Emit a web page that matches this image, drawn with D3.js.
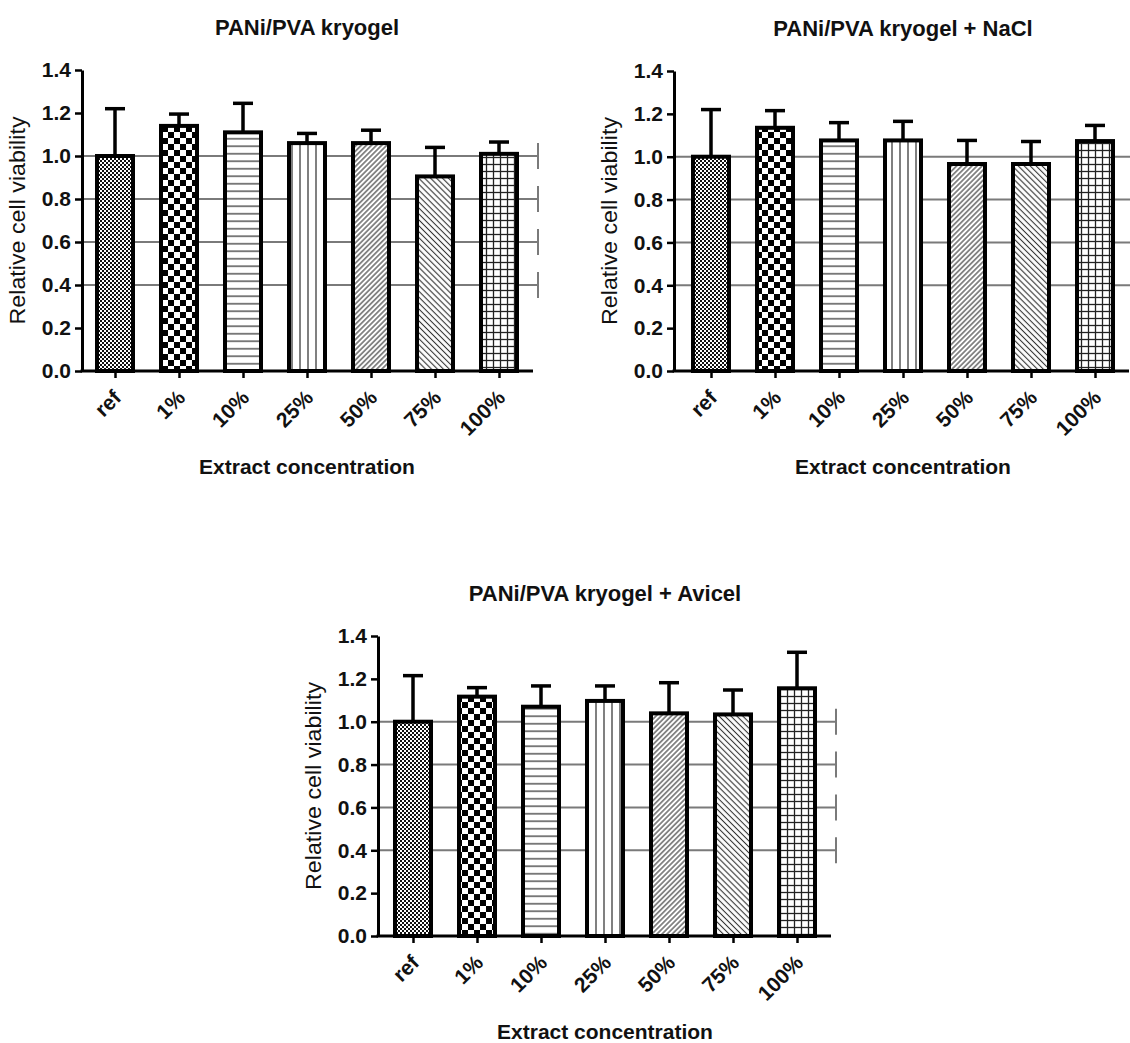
<!DOCTYPE html>
<html>
<head>
<meta charset="utf-8">
<script src="https://d3js.org/d3.v7.min.js"></script>
<style>
body { margin: 0; background: #fff; }
svg { display: block; font-family: 'Liberation Sans', Arial, sans-serif; }
</style>
</head>
<body>
<div id="chart"></div>
<script>

// categories and values
var cats = ["ref", "1%", "10%", "25%", "50%", "75%", "100%"];
var yTicks = [0, 0.2, 0.4, 0.6, 0.8, 1.0, 1.2, 1.4];
var gridVals = [0.4, 0.6, 0.8, 1.0];

var kryoMean = [1.00, 1.14, 1.11, 1.06, 1.06, 0.905, 1.01];
var kryoErr  = [0.22, 0.055, 0.135, 0.045, 0.06, 0.135, 0.055];

var naclMean = [1.00, 1.135, 1.076, 1.076, 0.966, 0.966, 1.073];
var naclErr  = [0.22, 0.08, 0.083, 0.089, 0.11, 0.105, 0.073];

var avicelMean = [1.00, 1.117, 1.07, 1.097, 1.039, 1.034, 1.156];
var avicelErr  = [0.215, 0.042, 0.097, 0.07, 0.143, 0.114, 0.168];

var patterns = ["fine", "check", "hline", "vline", "diagUp", "diagDown", "grid"];

// layout of the three panels
var panels = [
  {title: "PANi/PVA kryogel",          mean: kryoMean,   err: kryoErr,   axisX: 82,  x0: 115, yTop: 70,  yBot: 371, gridEnd: 538},
  {title: "PANi/PVA kryogel + NaCl",   mean: naclMean,   err: naclErr,   axisX: 674, x0: 711, yTop: 71,  yBot: 371, gridEnd: 1134},
  {title: "PANi/PVA kryogel + Avicel", mean: avicelMean, err: avicelErr, axisX: 378, x0: 413, yTop: 636, yBot: 936, gridEnd: 836}
];

var svg = d3.select("#chart").append("svg")
  .attr("width", 1130).attr("height", 1043);
svg.append("rect").attr("width", 1130).attr("height", 1043).attr("fill", "#fff");

/////// fill patterns ///////
var defs = svg.append("defs");

function makePattern(id, w, h, transform) {
  var p = defs.append("pattern").attr("id", id)
    .attr("patternUnits", "userSpaceOnUse")
    .attr("width", w).attr("height", h);
  if (transform) p.attr("patternTransform", transform);
  p.append("rect").attr("width", w).attr("height", h).attr("fill", "#fff");
  return p;
}

var p = makePattern("fine", 4, 4);
p.append("rect").attr("x", 0).attr("y", 0).attr("width", 2).attr("height", 2).attr("fill", "#111");
p.append("rect").attr("x", 2).attr("y", 2).attr("width", 2).attr("height", 2).attr("fill", "#111");

p = makePattern("check", 12, 12);
p.append("rect").attr("x", 0).attr("y", 0).attr("width", 6).attr("height", 6).attr("fill", "#000");
p.append("rect").attr("x", 6).attr("y", 6).attr("width", 6).attr("height", 6).attr("fill", "#000");

p = makePattern("hline", 10, 7.5);
p.append("line").attr("x1", 0).attr("x2", 10).attr("y1", 3.75).attr("y2", 3.75)
  .attr("stroke", "#555").attr("stroke-width", 1.5);

p = makePattern("vline", 8, 10);
p.append("line").attr("y1", 0).attr("y2", 10).attr("x1", 4).attr("x2", 4)
  .attr("stroke", "#555").attr("stroke-width", 1.5);

p = makePattern("diagUp", 3.6, 10, "rotate(45)");
p.append("line").attr("y1", 0).attr("y2", 10).attr("x1", 1.8).attr("x2", 1.8)
  .attr("stroke", "#333").attr("stroke-width", 1.1);

p = makePattern("diagDown", 4.2, 10, "rotate(-45)");
p.append("line").attr("y1", 0).attr("y2", 10).attr("x1", 2.1).attr("x2", 2.1)
  .attr("stroke", "#333").attr("stroke-width", 1.1);

p = makePattern("grid", 7, 7);
p.append("line").attr("x1", 0).attr("x2", 7).attr("y1", 3.5).attr("y2", 3.5)
  .attr("stroke", "#222").attr("stroke-width", 1.3);
p.append("line").attr("y1", 0).attr("y2", 7).attr("x1", 3.5).attr("x2", 3.5)
  .attr("stroke", "#222").attr("stroke-width", 1.3);

/////// draw one panel ///////
function drawPanel(cfg) {
  var g = svg.append("g");
  var axisEnd = cfg.x0 + 418;

  var x = d3.scalePoint().domain(cats)
    .range([cfg.x0 - 32, cfg.x0 + 416]).padding(0.5);
  var y = d3.scaleLinear().domain([0, 1.4]).range([cfg.yBot, cfg.yTop]);

  // grid lines with end caps
  g.selectAll(".grid").data(gridVals).enter().append("line")
    .attr("x1", cfg.axisX).attr("x2", cfg.gridEnd)
    .attr("y1", function(d) { return y(d); }).attr("y2", function(d) { return y(d); })
    .attr("stroke", "#7a7a7a").attr("stroke-width", 2);
  g.selectAll(".cap").data(gridVals).enter().append("line")
    .attr("x1", cfg.gridEnd).attr("x2", cfg.gridEnd)
    .attr("y1", function(d) { return y(d) - 13; }).attr("y2", function(d) { return y(d) + 13; })
    .attr("stroke", "#7a7a7a").attr("stroke-width", 2);

  var rows = cats.map(function(c, i) {
    return {cat: c, v: cfg.mean[i], e: cfg.err[i], pat: patterns[i]};
  });

  // error bars (upper only)
  g.selectAll(".err").data(rows).enter().append("line")
    .attr("x1", function(d) { return x(d.cat); }).attr("x2", function(d) { return x(d.cat); })
    .attr("y1", function(d) { return y(d.v); }).attr("y2", function(d) { return y(d.v + d.e); })
    .attr("stroke", "#000").attr("stroke-width", 3.5);
  g.selectAll(".errcap").data(rows).enter().append("line")
    .attr("x1", function(d) { return x(d.cat) - 10; }).attr("x2", function(d) { return x(d.cat) + 10; })
    .attr("y1", function(d) { return y(d.v + d.e); }).attr("y2", function(d) { return y(d.v + d.e); })
    .attr("stroke", "#000").attr("stroke-width", 3.5);

  // bars
  g.selectAll(".bar").data(rows).enter().append("rect")
    .attr("x", function(d) { return x(d.cat) - 18; })
    .attr("width", 36)
    .attr("y", function(d) { return y(d.v); })
    .attr("height", function(d) { return y(0) - y(d.v); })
    .attr("fill", function(d) { return "url(#" + d.pat + ")"; })
    .attr("stroke", "#000").attr("stroke-width", 4);

  // y axis
  var ya = g.append("g").attr("transform", "translate(" + cfg.axisX + ",0)")
    .call(d3.axisLeft(y).tickValues(yTicks).tickSize(7).tickSizeOuter(0)
      .tickFormat(d3.format(".1f")));
  ya.select(".domain").attr("stroke-width", 3);
  ya.selectAll(".tick line").attr("stroke-width", 2.5);
  ya.selectAll(".tick text").attr("x", -11)
    .style("font-size", "21px").style("font-weight", "bold")
    .style("font-family", "'Liberation Sans', Arial, sans-serif").attr("fill", "#111");

  // x axis
  var xa = g.append("g").attr("transform", "translate(0," + cfg.yBot + ")")
    .call(d3.axisBottom(x).tickSize(7).tickSizeOuter(0));
  xa.select(".domain").remove();
  xa.append("line").attr("x1", cfg.axisX - 1.5).attr("x2", axisEnd)
    .attr("stroke", "#000").attr("stroke-width", 3);
  xa.selectAll(".tick line").attr("stroke-width", 2.5);
  xa.selectAll(".tick text")
    .attr("text-anchor", "end").attr("dy", null).attr("y", null)
    .attr("transform", "translate(7,28) rotate(-45)")
    .style("font-size", "21px").style("font-weight", "bold")
    .style("font-family", "'Liberation Sans', Arial, sans-serif").attr("fill", "#111");

  var midX = cfg.x0 + 192;

  // titles
  g.append("text").attr("x", midX).attr("y", cfg.yTop - 35)
    .attr("text-anchor", "middle")
    .style("font-size", "22px").style("font-weight", "bold").attr("fill", "#111")
    .text(cfg.title);

  g.append("text").attr("x", midX).attr("y", cfg.yBot + 103)
    .attr("text-anchor", "middle")
    .style("font-size", "21px").style("font-weight", "bold").attr("fill", "#111")
    .text("Extract concentration");

  g.append("text")
    .attr("transform", "translate(" + (cfg.axisX - 57) + "," + ((cfg.yTop + cfg.yBot) / 2) + ") rotate(-90)")
    .attr("text-anchor", "middle")
    .attr("textLength", 208).attr("lengthAdjust", "spacingAndGlyphs")
    .style("font-size", "22px").attr("fill", "#111")
    .text("Relative cell viability");
}

panels.forEach(drawPanel);

</script>
</body>
</html>
